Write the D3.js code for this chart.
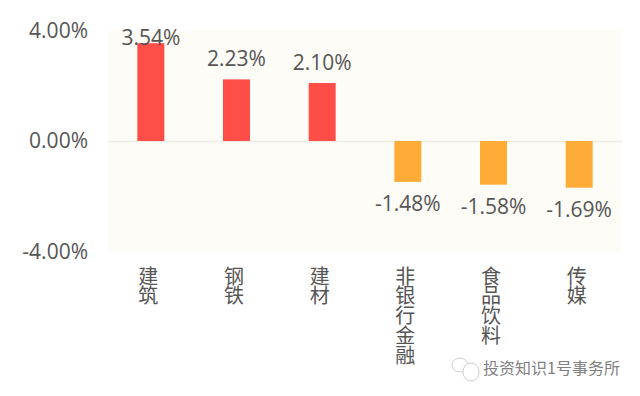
<!DOCTYPE html>
<html>
<head>
<meta charset="utf-8">
<script src="https://cdn.jsdelivr.net/npm/d3@7"></script>
<style>
  html, body { margin: 0; padding: 0; background: #fff; }
  text { font-family: "Open Sans", "Noto Sans CJK SC", sans-serif; }
</style>
</head>
<body>
<div id="chart"></div>
<script>
const categories = ["建筑", "钢铁", "建材", "非银行金融", "食品饮料", "传媒"];
const values = [3.54, 2.23, 2.10, -1.48, -1.58, -1.69];
const yTicks = [-4, 0, 4];
const watermark = "投资知识1号事务所";

const width = 640, height = 396;
const margin = {top: 30.5, right: 18, bottom: 144.5, left: 108};
const textColor = "#555555";

// toFixed keeps the plain hyphen of the original labels
let pct = d => d.toFixed(2) + "%";

const svg = d3.select("#chart").append("svg")
    .attr("width", width)
    .attr("height", height);

let xScale = d3.scaleBand().domain(categories)
    .range([margin.left, width - margin.right])
    .paddingInner(0.685).paddingOuter(0.3425);
let yScale = d3.scaleLinear().domain([-4, 4])
    .range([height - margin.bottom, margin.top]);

// plot background
svg.append("rect")
    .attr("x", margin.left)
    .attr("y", margin.top)
    .attr("width", width - margin.left - margin.right)
    .attr("height", height - margin.top - margin.bottom)
    .attr("fill", "#fefcf7");

// zero line
svg.append("line")
    .attr("x1", margin.left)
    .attr("x2", width - margin.right)
    .attr("y1", yScale(0) + 0.5)
    .attr("y2", yScale(0) + 0.5)
    .attr("stroke", "#efebe5")
    .attr("stroke-width", 1.5);

// y axis
let yAxis = d3.axisLeft(yScale).tickValues(yTicks).tickSize(0).tickPadding(20)
    .tickFormat(pct);
let yAx = svg.append("g")
    .attr("transform", "translate(" + margin.left + ",0)")
    .call(yAxis);
yAx.select(".domain").remove();
yAx.selectAll("text")
    .style("font-size", "21px")
    .style("fill", textColor);

// bars
svg.selectAll(".bar")
    .data(values)
    .enter().append("rect")
    .attr("class", "bar")
    .attr("x", (d, i) => xScale(categories[i]))
    .attr("y", d => d > 0 ? yScale(d) : yScale(0))
    .attr("width", xScale.bandwidth())
    .attr("height", d => Math.abs(yScale(d) - yScale(0)))
    .attr("fill", d => d > 0 ? "#ff4d47" : "#ffab38");

// value labels, the top one gets clamped into the chart
svg.selectAll(".valueLabel")
    .data(values)
    .enter().append("text")
    .attr("class", "valueLabel")
    .attr("x", (d, i) => xScale(categories[i]) + xScale.bandwidth() / 2)
    .attr("y", d => d > 0 ? Math.max(yScale(d) - 13, 45) : yScale(d) + 29)
    .attr("text-anchor", "middle")
    .style("font-size", "21px")
    .style("fill", textColor)
    .text(pct);

// category labels stacked vertically
let catGroup = svg.selectAll(".catLabel")
    .data(categories)
    .enter().append("text")
    .attr("class", "catLabel")
    .attr("text-anchor", "middle")
    .style("font-size", "20px")
    .style("font-family", "'Noto Sans CJK SC'")
    .style("fill", textColor);

catGroup.selectAll("tspan")
    .data(d => Array.from(d).map(c => ({c: c, cat: d})))
    .enter().append("tspan")
    .attr("x", d => xScale(d.cat) + xScale.bandwidth() / 2 - 2.5)
    .attr("y", (d, i) => 283.5 + i * 19.8)
    .text(d => d.c);

// wechat style watermark
let mark = svg.append("g")
    .attr("fill", "none")
    .attr("stroke", "#cfcfcf")
    .attr("stroke-width", 1);
mark.append("ellipse").attr("cx", 460).attr("cy", 365).attr("rx", 8).attr("ry", 7);
mark.append("ellipse").attr("cx", 471).attr("cy", 372).attr("rx", 8).attr("ry", 9).attr("fill", "#fff");

svg.append("text")
    .attr("x", 483)
    .attr("y", 374)
    .style("font-size", "16px")
    .style("font-family", "'Noto Sans CJK SC'")
    .style("fill", "#808080")
    .text(watermark);
</script>
</body>
</html>
